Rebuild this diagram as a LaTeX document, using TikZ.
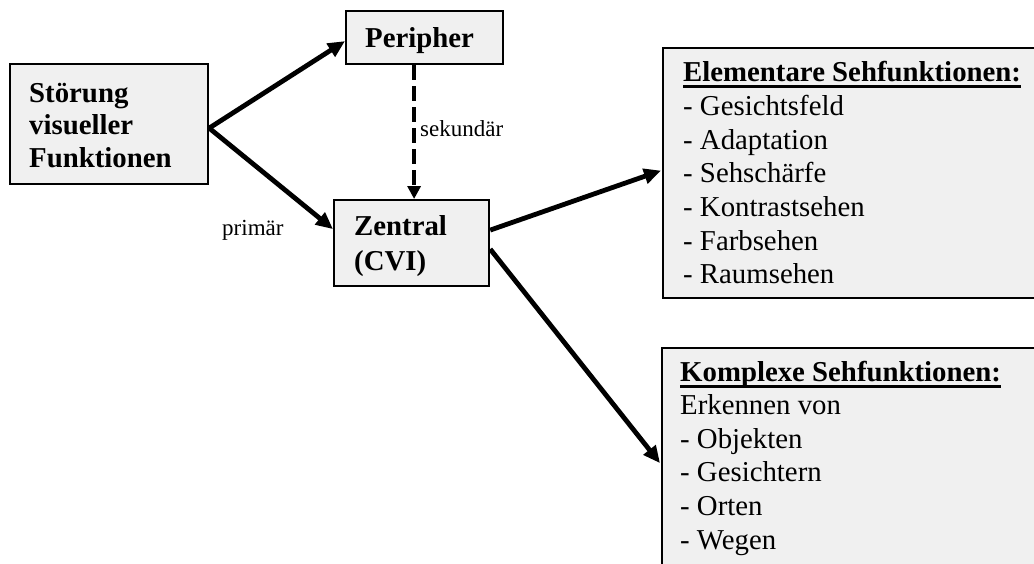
\documentclass[tikz,border=0pt]{standalone}
\usepackage{fontspec}
\setmainfont{Liberation Serif}
\usetikzlibrary{arrows.meta,calc}
\definecolor{boxgray}{HTML}{F0F0F0}
\newcommand\hdul[1]{\setbox0\hbox{#1}\rlap{\rule[-6.5pt]{\wd0}{2.4pt}}\box0}
\tikzset{
  box/.style={draw=black, line width=2.2pt, fill=boxgray, inner sep=0pt, anchor=north west},
  txt/.style={anchor=base west, inner sep=0pt},
  bigbold/.style={font=\bfseries\fontsize{28.8}{32.5}\selectfont},
  lbl/.style={anchor=base west, inner sep=0pt, font=\fontsize{23}{27}\selectfont},
  main arrow/.style={line width=4.8pt, -{Triangle[length=17pt,width=15pt]}},
  dash arrow/.style={line width=3.8pt, dash pattern=on 15pt off 6pt, -{Triangle[length=13pt,width=13pt]}},
}
\begin{document}
\begin{tikzpicture}[x=1pt,y=-1pt]
\useasboundingbox (0,0) rectangle (1034,563);
\fill[white] (0,0) rectangle (1034,563);
\clip (0,0) rectangle (1034,563);

% boxes
\node[box, minimum width=198pt, minimum height=120pt] (stor) at (9,63) {};
\node[box, minimum width=157pt, minimum height=53pt] (peri) at (345,10) {};
\node[box, minimum width=155pt, minimum height=86pt] (zen) at (333,199) {};
\node[box, minimum width=390pt, minimum height=250pt] (elem) at (662,47) {};
\node[box, minimum width=390pt, minimum height=240pt] (komp) at (661,347) {};

% box texts
\node[txt, bigbold] (stortext) at (29,102)
  {\begin{tabular}[t]{@{}l@{}}Störung\\visueller\\Funktionen\end{tabular}};
\node[txt, bigbold] (peritext) at (365,47) {Peripher};
\node[txt, font=\bfseries\fontsize{28.8}{35}\selectfont] (zentext) at (354,235)
  {\begin{tabular}[t]{@{}l@{}}Zentral\\(CVI)\end{tabular}};
\node[txt, font=\fontsize{28.8}{33.6}\selectfont] (elemtext) at (683,81)
  {\begin{tabular}[t]{@{}l@{}}\textbf{\hdul{Elementare Sehfunktionen:}}\\[1pt]
   - Gesichtsfeld\\- Adaptation\\- Sehschärfe\\- Kontrastsehen\\- Farbsehen\\- Raumsehen\end{tabular}};
\node[txt, font=\fontsize{28.8}{33.6}\selectfont] (komptext) at (680,381)
  {\begin{tabular}[t]{@{}l@{}}\textbf{\hdul{Komplexe Sehfunktionen:}}\\
   Erkennen von\\- Objekten\\- Gesichtern\\- Orten\\- Wegen\end{tabular}};

% labels
\node[lbl] (sek) at (420,136) {sekundär};
\node[lbl] (prim) at (222,235) {primär};

% connectors
\draw[main arrow] ($(stor.east)+(0,4)$) -- ($(peri.west)+(0,3.5)$);
\draw[main arrow] ($(stor.east)+(0,4)$) -- ($(zen.west)+(0,-14)$);
\draw[dash arrow] ($(peri.south)+(-10.5,0)$) -- ($(zen.north)+(2.5,0)$);
\draw[main arrow] ($(zen.east)+(0,-13)$) -- ($(elem.west)+(-1,-2.5)$);
\draw[main arrow] ($(zen.east)+(0,6)$) -- ($(komp.west)+(-1,-5)$);
\end{tikzpicture}
\end{document}
